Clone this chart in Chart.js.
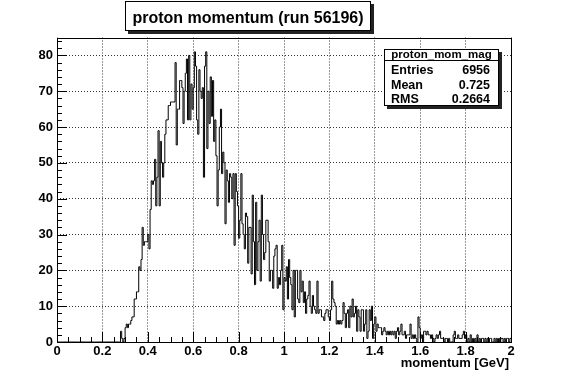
<!DOCTYPE html>
<html><head><meta charset="utf-8">
<script src="https://cdn.jsdelivr.net/npm/chart.js@4/dist/chart.umd.min.js"></script>
<style>html,body{margin:0;padding:0;background:#fff;overflow:hidden}#wrap{width:567px;height:381px;position:relative}</style>
</head><body><div id="wrap"><canvas id="c" width="567" height="381"></canvas></div>
<script>
// ---- data ----
const titleText = "proton momentum (run 56196)";
const statsName = "proton_mom_mag";
const statsLabels = ["Entries", "Mean", "RMS"];
const statsValues = ["6956", "0.725", "0.2664"];
const xAxisTitle = "momentum [GeV]";
const xRange = [0, 2];
const yRange = [0, 85];
const binWidth = 0.005;
const xTickValues = [0, 0.2, 0.4, 0.6, 0.8, 1, 1.2, 1.4, 1.6, 1.8, 2];
const xTickLabels = ["0", "0.2", "0.4", "0.6", "0.8", "1", "1.2", "1.4", "1.6", "1.8", "2"];
const yTickValues = [0, 10, 20, 30, 40, 50, 60, 70, 80];
const yTickLabels = ["0", "10", "20", "30", "40", "50", "60", "70", "80"];
const xMinorStep = 0.05;
const yMinorStep = 2;
// bin contents, 400 bins of 0.005 GeV from 0 to 2
const counts = [
 0,0,0,0,0,0,0,0,0,0, 0,0,0,0,0,0,0,0,0,0,
 0,0,0,0,0,0,0,0,0,0, 0,0,0,0,0,0,0,0,0,0,
 0,0,0,0,0,0,0,0,0,0, 0,0,0,0,0,0,3,1,0,1,
 4,5,4,5,5,6,7,7,12,12, 14,14,21,20,23,32,27,28,28,28,
 30,26,37,45,44,45,51,38,46,59, 38,56,50,46,50,58,62,62,66,66,
 67,67,67,67,78,55,65,65,73,73, 71,61,70,75,79,62,80,62,72,65,
 71,81,77,62,58,76,70,68,71,46, 77,81,54,70,61,74,63,73,56,62,
 52,38,48,60,65,47,53,50,33,48, 45,39,47,46,40,47,27,47,42,38,
 29,34,47,33,30,26,36,35,22,32, 32,19,41,28,16,39,20,28,34,17,
 41,30,23,25,34,34,28,17,20,20, 15,24,26,27,15,18,16,20,27,9,
 18,17,21,12,23,18,16,9,20,7, 20,20,12,11,20,14,17,11,14,8,
 12,13,17,10,8,13,10,9,8,17, 8,9,9,7,7,6,8,9,9,7,
 6,9,17,12,11,10,5,6,5,6, 5,6,11,8,4,8,9,4,10,7,
 12,7,8,10,3,9,7,3,9,9, 3,5,9,1,3,9,6,10,1,5,
 7,3,5,4,4,4,2,3,4,3, 2,3,2,3,2,3,2,3,1,3,
 4,2,3,5,2,2,3,1,2,2, 2,5,1,2,1,2,1,0,7,4,
 1,2,0,3,3,2,3,2,2,1, 2,1,0,1,2,1,2,3,1,1,
 1,0,1,1,0,1,0,0,0,2, 3,1,1,2,1,1,1,2,3,1,
 2,0,1,0,2,0,1,0,1,0, 2,0,1,0,1,1,0,1,0,1,
 0,1,1,0,0,1,0,1,0,1, 0,1,1,0,1,0,1,1,0,1
];

// ---- build histogram outline points from bins ----
const histPoints = counts.map((c, i) => ({ x: xRange[0] + i * binWidth, y: c }));
histPoints.push({ x: xRange[0] + counts.length * binWidth, y: counts[counts.length - 1] });

const FONT = "'Liberation Sans', Arial, Helvetica, sans-serif";

const rootPlugin = {
  id: 'rootDeco',
  afterDatasetsDraw(chart) {
    const ctx = chart.ctx, a = chart.chartArea, xs = chart.scales.x, ys = chart.scales.y;
    const L = Math.round(a.left), R = Math.round(a.right), T = Math.round(a.top), B = Math.round(a.bottom);
    ctx.save();
    ctx.strokeStyle = '#000';
    ctx.lineWidth = 1;
    // frame
    ctx.strokeRect(L + 0.5, T + 0.5, R - L, B - T);
    // x ticks (inside)
    ctx.beginPath();
    for (let k = 0; k * xMinorStep <= xRange[1] + 1e-9; k++) {
      const v = xRange[0] + k * xMinorStep;
      const major = xTickValues.some(t => Math.abs(t - v) < 1e-9);
      const px = Math.round(xs.getPixelForValue(v)) + 0.5;
      const len = major ? 10 : 5;
      ctx.moveTo(px, B);
      ctx.lineTo(px, B - len);
    }
    // y ticks (inside)
    for (let k = 0; k * yMinorStep <= yRange[1] + 1e-9; k++) {
      const v = yRange[0] + k * yMinorStep;
      const major = yTickValues.some(t => Math.abs(t - v) < 1e-9);
      const py = Math.round(ys.getPixelForValue(v)) + 0.5;
      const len = major ? 10 : 5;
      ctx.moveTo(L, py);
      ctx.lineTo(L + len, py);
    }
    ctx.stroke();

    // x axis title
    ctx.fillStyle = '#000';
    ctx.font = "bold 13px " + FONT;
    ctx.textAlign = 'right';
    ctx.textBaseline = 'alphabetic';
    ctx.fillText(xAxisTitle, R - 2, 367);

    // title box
    const tb = { x: 125, y: 1, w: 246, h: 30 };
    ctx.fillStyle = '#222';
    ctx.fillRect(tb.x + 3, tb.y + 3, tb.w, tb.h);
    ctx.fillStyle = '#fff';
    ctx.fillRect(tb.x, tb.y, tb.w, tb.h);
    ctx.strokeRect(tb.x + 0.5, tb.y + 0.5, tb.w - 1, tb.h - 1);
    ctx.fillStyle = '#000';
    ctx.font = "bold 16px " + FONT;
    ctx.textAlign = 'center';
    ctx.fillText(titleText, tb.x + tb.w / 2, 23);

    // stats box
    const sb = { x: 384, y: 49, w: 115, h: 57 };
    ctx.fillStyle = '#222';
    ctx.fillRect(sb.x + 3, sb.y + 3, sb.w, sb.h);
    ctx.fillStyle = '#fff';
    ctx.fillRect(sb.x, sb.y, sb.w, sb.h);
    ctx.strokeRect(sb.x + 0.5, sb.y + 0.5, sb.w - 1, sb.h - 1);
    ctx.beginPath();
    ctx.moveTo(sb.x, 60.5);
    ctx.lineTo(sb.x + sb.w, 60.5);
    ctx.stroke();
    ctx.fillStyle = '#000';
    ctx.font = "bold 11.5px " + FONT;
    ctx.textAlign = 'center';
    ctx.fillText(statsName, sb.x + sb.w / 2, 58);
    ctx.font = "bold 12.5px " + FONT;
    const rowsY = [74, 88.5, 103];
    statsLabels.forEach((lab, i) => {
      ctx.textAlign = 'left';
      ctx.fillText(lab, 391, rowsY[i]);
      ctx.textAlign = 'right';
      ctx.fillText(statsValues[i], 490, rowsY[i]);
    });
    ctx.restore();
  }
};

new Chart(document.getElementById('c'), {
  type: 'line',
  data: {
    datasets: [{
      data: histPoints,
      stepped: true,
      borderColor: '#000',
      borderWidth: 1,
      pointRadius: 0,
      fill: false,
      tension: 0
    }]
  },
  options: {
    responsive: false,
    animation: false,
    events: [],
    parsing: false,
    normalized: true,
    layout: { padding: { top: 37.5, right: 56, bottom: 0, left: 0 } },
    plugins: { legend: { display: false }, tooltip: { enabled: false }, title: { display: false } },
    scales: {
      x: {
        type: 'linear', min: xRange[0], max: xRange[1],
        afterBuildTicks: s => { s.ticks = xTickValues.map(v => ({ value: v })); },
        afterFit: s => { s.height = 39; },
        ticks: { autoSkip: false, maxRotation: 0, padding: 2, color: '#000',
          font: { family: FONT, size: 13, weight: 'bold' },
          callback: (v, i) => xTickLabels[i] },
        grid: { drawTicks: false, color: '#333', lineWidth: 1 },
        border: { display: false, dash: [1, 2] }
      },
      y: {
        type: 'linear', min: yRange[0], max: yRange[1],
        afterBuildTicks: s => { s.ticks = yTickValues.map(v => ({ value: v })); },
        afterFit: s => { s.width = 57; },
        ticks: { autoSkip: false, padding: 4, color: '#000',
          font: { family: FONT, size: 13, weight: 'bold' },
          callback: (v, i) => yTickLabels[i] },
        grid: { drawTicks: false, color: '#333', lineWidth: 1 },
        border: { display: false, dash: [1, 2] }
      }
    }
  },
  plugins: [rootPlugin]
});
</script>
</body></html>
